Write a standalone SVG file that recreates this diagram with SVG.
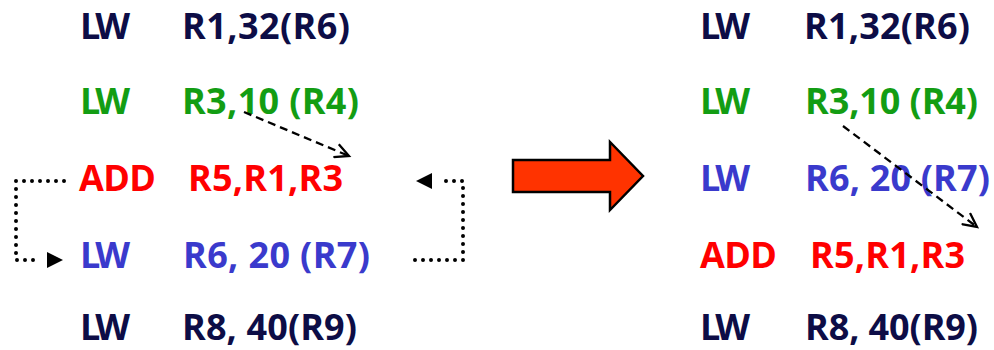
<svg xmlns="http://www.w3.org/2000/svg" width="994" height="350" viewBox="0 0 994 350">
  <style>
    text { font-family: "Open Sans", "Liberation Sans", sans-serif; font-weight: bold; font-size: 36px; }
    .navy { fill: #0d0d46; }
    .green { fill: #139d13; }
    .red { fill: #ff0000; }
    .blue { fill: #3a3acc; }
    .dot { fill: none; stroke: #000; stroke-width: 4; stroke-dasharray: 0 8; stroke-linecap: round; }
    .dash { fill: none; stroke: #000; stroke-width: 2.3; stroke-dasharray: 8 5; }
  </style>
  <defs>
    <marker id="open" markerWidth="18" markerHeight="16" refX="15" refY="8" orient="auto" markerUnits="userSpaceOnUse">
      <path d="M1,1 L15,8 L1,15" fill="none" stroke="#000" stroke-width="2.3"/>
    </marker>
  </defs>

  <!-- left sequence -->
  <g id="left-1"><text class="navy" x="80" y="39" textLength="50">LW</text><text class="navy" x="182" y="39" textLength="168">R1,32(R6)</text></g>
  <g id="left-2"><text class="green" x="80" y="114" textLength="50">LW</text><text class="green" x="182" y="114" textLength="177">R3,10 (R4)</text></g>
  <g id="left-3"><text class="red" x="79" y="191" textLength="77">ADD</text><text class="red" x="188" y="191" textLength="155">R5,R1,R3</text></g>
  <g id="left-4"><text class="blue" x="80" y="268" textLength="50">LW</text><text class="blue" x="183" y="268" textLength="187">R6, 20 (R7)</text></g>
  <g id="left-5"><text class="navy" x="80" y="340" textLength="50">LW</text><text class="navy" x="182" y="340" textLength="175">R8, 40(R9)</text></g>

  <!-- right sequence -->
  <g id="right-1"><text class="navy" x="700" y="39" textLength="50">LW</text><text class="navy" x="804" y="39" textLength="166">R1,32(R6)</text></g>
  <g id="right-2"><text class="green" x="700" y="114" textLength="50">LW</text><text class="green" x="805" y="114" textLength="173">R3,10 (R4)</text></g>
  <g id="right-3"><text class="blue" x="700" y="191" textLength="50">LW</text><text class="blue" x="805" y="191" textLength="185">R6, 20 (R7)</text></g>
  <g id="right-4"><text class="red" x="700" y="268" textLength="77">ADD</text><text class="red" x="810" y="268" textLength="155">R5,R1,R3</text></g>
  <g id="right-5"><text class="navy" x="700" y="340" textLength="50">LW</text><text class="navy" x="805" y="340" textLength="173">R8, 40(R9)</text></g>

  <!-- big transform arrow -->
  <g id="transform-arrow">
    <path d="M513,160 L610,160 L610,142 L643,176 L610,210 L610,192 L513,192 Z" fill="#ff3300" stroke="#000" stroke-width="2.5" stroke-linejoin="miter"/>
  </g>

  <!-- connectors -->
  <g id="connectors">
    <path class="dot" d="M64,181 L16,181 L16,260 L40,260"/>
    <path d="M47,252 L63,260 L47,268 Z" fill="#000"/>
    <path class="dot" d="M415,260 L463,260 L463,181 L440,181"/>
    <path d="M432,173 L416,181 L432,189 Z" fill="#000"/>
    <path class="dash" d="M244,112 L349,156" marker-end="url(#open)"/>
    <path class="dash" d="M843,126 L977,227" marker-end="url(#open)"/>
  </g>
</svg>
